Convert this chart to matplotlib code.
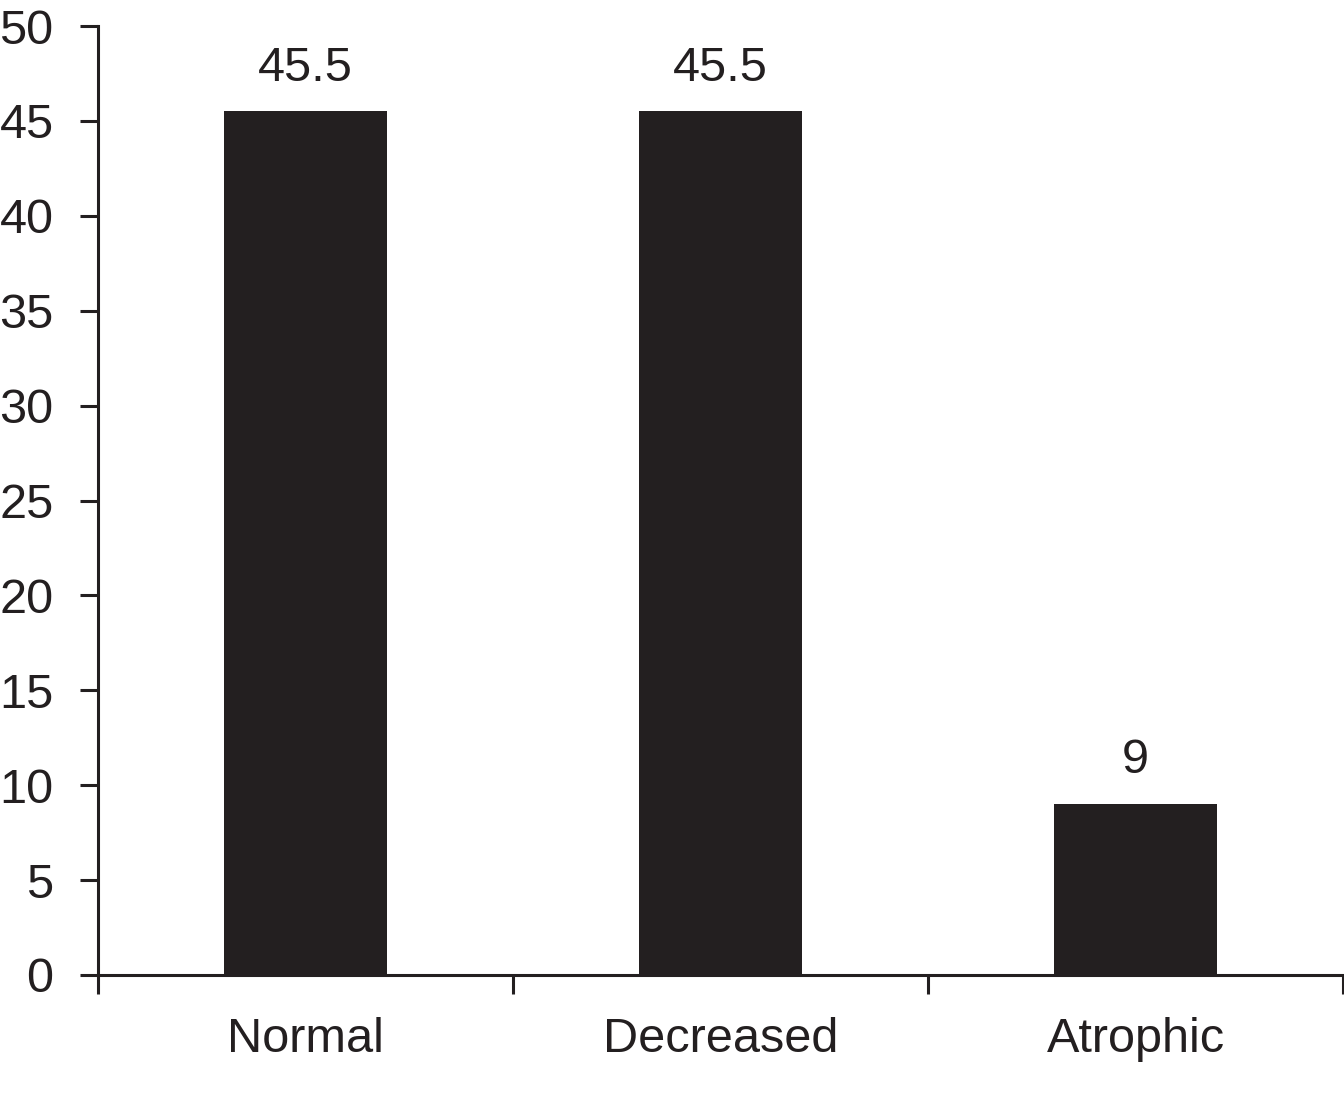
import matplotlib
matplotlib.use("Agg")
import matplotlib.pyplot as plt

# data
categories = ["Normal", "Decreased", "Atrophic"]
values = [45.5, 45.5, 9]
value_labels = ["45.5", "45.5", "9"]

INK = "#231f20"
plt.rcParams["font.family"] = ["Liberation Sans", "DejaVu Sans"]

fig = plt.figure(figsize=(13.44, 11.10), dpi=100)
ax = fig.add_axes([98 / 1344, 1 - 975 / 1110, (1343 - 98) / 1344, (975 - 26) / 1110])

x = list(range(len(categories)))
bars = ax.bar(x, values, width=0.395, color=INK, zorder=2)
for b, lab in zip(bars, value_labels):
    ax.annotate(lab, (b.get_x() + b.get_width() / 2, b.get_height()),
                xytext=(0, 15), textcoords="offset points",
                ha="center", va="bottom", fontsize=35, color=INK)

ax.set_xlim(-0.5, len(categories) - 0.5)
ax.set_ylim(0, 50)
ax.set_yticks(range(0, 51, 5))

# category labels at bar centres, tick marks at the boundaries
ax.set_xticks(x)
ax.set_xticklabels(categories)
ax.set_xticks([i - 0.5 for i in range(len(categories) + 1)], minor=True)
ax.tick_params(axis="x", which="major", length=0, pad=30, labelsize=35, labelcolor=INK)
ax.tick_params(axis="x", which="minor", length=14, width=2.2, color=INK, direction="out")
ax.tick_params(axis="y", length=13, width=2.2, color=INK, direction="out",
               pad=19, labelsize=35, labelcolor=INK)

for s in ("top", "right"):
    ax.spines[s].set_visible(False)
for s in ("left", "bottom"):
    ax.spines[s].set_linewidth(2.2)
    ax.spines[s].set_color(INK)

fig.savefig("out.png", dpi=100)
